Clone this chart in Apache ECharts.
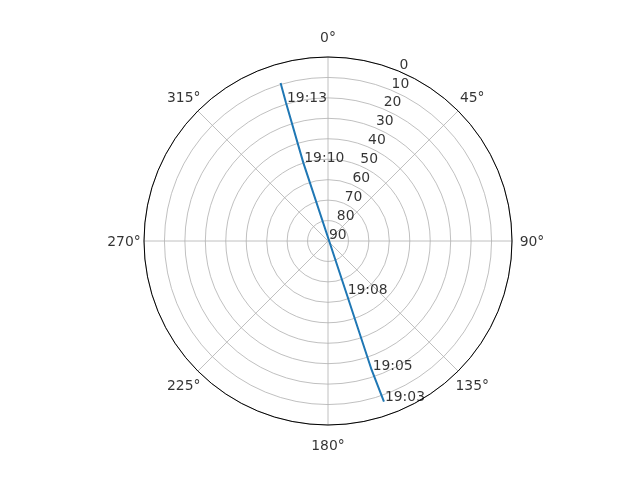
<!DOCTYPE html>
<html>
<head>
<meta charset="utf-8">
<script src="https://cdn.jsdelivr.net/npm/echarts@6/dist/echarts.min.js"></script>
<style>
  html, body { margin: 0; padding: 0; background: #fff; }
  #chart { width: 640px; height: 480px; }
</style>
</head>
<body>
<div id="chart"></div>
<script>
// satellite pass: elevation (deg) and azimuth (deg)
const trackTimes = ["19:03", "19:05", "19:08", "19:10", "19:13", "19:14"];
const trackElevation = [6.8, 23.4, 62.5, 49.8, 19.3, 9.3];
const trackAzimuth = [160.8, 161.3, 160.6, 342.5, 343.1, 343.3];
const labelTimes = ["19:03", "19:05", "19:08", "19:10", "19:13"];

const radiusTicks = [0, 10, 20, 30, 40, 50, 60, 70, 80, 90];
const radiusLabelAngle = 22.5;
const angleTicks = [0, 45, 90, 135, 180, 225, 270, 315];

const FONT = "DejaVu Sans";

function init() {
  const chart = echarts.init(document.getElementById("chart"));

  const track = trackTimes.map((t, i) => [trackElevation[i], trackAzimuth[i]]);
  const timeMarks = trackTimes
    .map((t, i) => ({ name: t, value: [trackElevation[i], trackAzimuth[i]] }))
    .filter(d => labelTimes.includes(d.name));

  const textStyle = { color: "#000", fontFamily: FONT, fontSize: 13.9 };
  const hidden = { axisLine: { show: false }, axisTick: { show: false },
                   axisLabel: { show: false }, splitLine: { show: false } };

  chart.setOption({
    animation: false,
    polar: [
      { center: [328, 241], radius: 184 },
      // outer ring only used to place the azimuth labels
      { center: [328, 241], radius: 204 }
    ],
    angleAxis: [
      {
        polarIndex: 0,
        type: "value",
        min: 0,
        max: 360,
        interval: 45,
        startAngle: 90,
        clockwise: true,
        axisLine: { show: true, lineStyle: { color: "#000", width: 1 } },
        axisTick: { show: false },
        axisLabel: { show: false },
        splitLine: { show: true, lineStyle: { color: "#b0b0b0", width: 0.8 } }
      },
      Object.assign({
        polarIndex: 1, type: "value", min: 0, max: 360,
        startAngle: 90, clockwise: true
      }, hidden)
    ],
    radiusAxis: [
      {
        polarIndex: 0,
        type: "value",
        min: 0,
        max: 90,
        interval: 10,
        inverse: true,
        axisLine: { show: false },
        axisTick: { show: false },
        axisLabel: { show: false },
        splitLine: { show: true, lineStyle: { color: "#b0b0b0", width: 0.8 } }
      },
      Object.assign({ polarIndex: 1, type: "value", min: 0, max: 1 }, hidden)
    ],
    series: [
      {
        type: "line",
        coordinateSystem: "polar",
        polarIndex: 0,
        data: track,
        showSymbol: false,
        lineStyle: { color: "#1f77b4", width: 2 },
        z: 3
      },
      {
        type: "scatter",
        coordinateSystem: "polar",
        polarIndex: 0,
        data: timeMarks,
        symbolSize: 0,
        silent: true,
        label: Object.assign({
          show: true,
          formatter: p => p.name,
          position: "right",
          distance: 1,
          align: "left",
          verticalAlign: "bottom",
          offset: [0, 3]
        }, textStyle),
        z: 4
      },
      {
        type: "scatter",
        coordinateSystem: "polar",
        polarIndex: 0,
        data: radiusTicks.map(v => [v, radiusLabelAngle]),
        symbolSize: 0,
        silent: true,
        label: Object.assign({
          show: true,
          formatter: p => String(p.value[0]),
          position: "right",
          distance: 1,
          align: "left",
          verticalAlign: "bottom",
          offset: [0, 1]
        }, textStyle),
        z: 4
      },
      {
        type: "scatter",
        coordinateSystem: "polar",
        polarIndex: 1,
        data: angleTicks.map(a => [1, a]),
        symbolSize: 0,
        silent: true,
        label: Object.assign({
          show: true,
          formatter: p => p.value[1] + "°",
          position: "inside",
          align: "center",
          verticalAlign: "middle",
          offset: [0, 1.5]
        }, textStyle),
        z: 4
      }
    ]
  });
}

init();
</script>
</body>
</html>
